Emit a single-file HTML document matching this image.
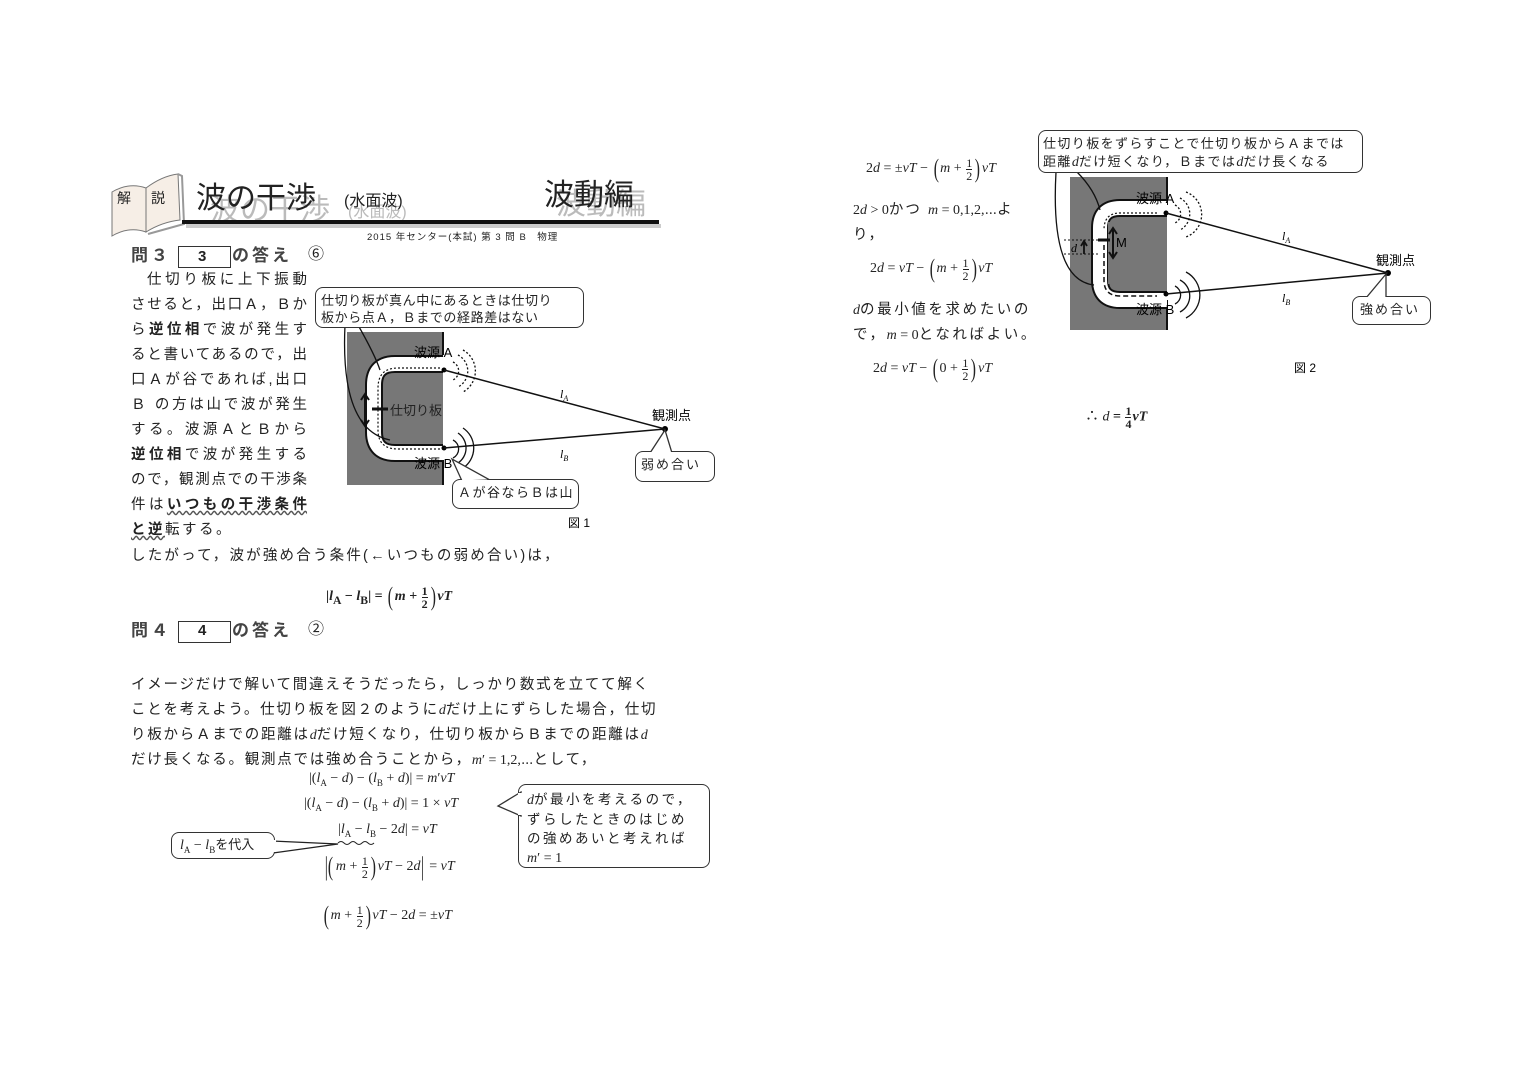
<!DOCTYPE html>
<html><head><meta charset="utf-8">
<style>
body{margin:0;width:1518px;height:1075px;background:#fff;position:relative;overflow:hidden;font-family:"Liberation Sans","Noto Sans CJK JP",sans-serif;color:#222}
.t{position:absolute;white-space:nowrap;line-height:1}
.j{font-size:14.5px;letter-spacing:2.2px}
.m{font-family:"Liberation Serif","Noto Serif CJK SC",serif;font-size:14px;letter-spacing:0}
.fr{display:inline-block;vertical-align:middle;text-align:center;font-size:12px;line-height:12px;margin:0 1px}
.fr span{display:block}
.fr .n{border-bottom:1px solid #222}
.p{font-size:26px;font-weight:200;vertical-align:middle;transform:scaleX(.6);display:inline-block}
.b{font-weight:bold}
.box{position:absolute;border:1.5px solid #333;border-radius:8px;background:#fff}
.ln{position:absolute;left:131px;width:176px;font-size:14.5px;text-align:justify;text-align-last:justify;white-space:nowrap;line-height:1}
</style></head><body>

<!-- header -->
<svg class="t" style="left:104px;top:168px" width="90" height="70">
<path d="M8 24 Q25 14 42 20 L42 64 Q25 58 8 68 Z" fill="#f6eee6" stroke="#777"/>
<path d="M42 20 Q58 8 74 6 L76 52 Q58 54 42 64 Z" fill="#f6eee6" stroke="#777"/>
<path d="M74 6 L78 8 L80 56 L44 66" fill="none" stroke="#999" stroke-width="2"/>
</svg>
<div class="t" style="left:117px;top:191px;font-size:14px">解</div>
<div class="t" style="left:151px;top:191px;font-size:14px">説</div>
<div class="t" style="left:210px;top:196px;font-size:30px;color:#bbb">波の干渉</div>
<div class="t" style="left:196px;top:184px;font-size:30px">波の干渉</div>
<div class="t" style="left:348px;top:205px;font-size:16px;color:#bbb">(水面波)</div>
<div class="t" style="left:344px;top:194px;font-size:16px">(水面波)</div>
<div class="t" style="left:556px;top:190px;font-size:30px;color:#bbb">波動編</div>
<div class="t" style="left:544px;top:181px;font-size:30px">波動編</div>
<div style="position:absolute;left:186px;top:224px;width:475px;height:4px;background:#ccc"></div>
<div style="position:absolute;left:182px;top:220px;width:477px;height:4px;background:#111"></div>
<div class="t" style="left:367px;top:233px;font-size:9.5px;letter-spacing:1px">2015 年センター(本試) 第 3 問 B　物理</div>

<!-- 問3 -->
<div class="t b" style="left:131px;top:247px;font-size:17px;letter-spacing:3px;color:#444">問３</div>
<div style="position:absolute;left:178px;top:246px;width:51px;height:20px;border:1px solid #333"></div>
<div class="t b" style="left:198px;top:249px;font-size:15px">3</div>
<div class="t b" style="left:232px;top:247px;font-size:17px;letter-spacing:3px;color:#444">の答え</div>
<div class="t" style="left:308px;top:247px;font-size:16px">⑥</div>

<div class="ln" style="top:273px;left:147px;width:160px">仕切り板に上下振動</div>
<div class="ln" style="top:298px">させると，出口Ａ，Ｂか</div>
<div class="ln" style="top:323px">ら<b>逆位相</b>で波が発生す</div>
<div class="ln" style="top:348px">ると書いてあるので，出</div>
<div class="ln" style="top:373px">口Ａが谷であれば,出口</div>
<div class="ln" style="top:398px">Ｂ の方は山で波が発生</div>
<div class="ln" style="top:423px">する。波源ＡとＢから</div>
<div class="ln" style="top:448px"><b>逆位相</b>で波が発生する</div>
<div class="ln" style="top:473px">ので，観測点での干渉条</div>
<div class="ln" style="top:498px">件は<b style="text-decoration:underline wavy #555">いつもの干渉条件</b></div>
<div class="t" style="left:131px;top:523px;font-size:14.5px;letter-spacing:2.5px"><b style="text-decoration:underline wavy #555">と逆</b>転する。</div>
<div class="t j" style="left:131px;top:549px">したがって，波が強め合う条件(←いつもの弱め合い)は，</div>
<div class="t m b" style="left:326px;top:584px">|<i>l</i><sub>A</sub> − <i>l</i><sub>B</sub>| = <span class="p">(</span><i>m</i> + <span class="fr"><span class="n">1</span><span>2</span></span><span class="p">)</span><i>vT</i></div>

<!-- fig1 -->
<svg class="t" style="left:300px;top:280px" width="420" height="260" viewBox="300 280 420 260">
<rect x="347" y="332" width="96" height="153" fill="#777"/>
<line x1="443" y1="332" x2="443" y2="355" stroke="#111" stroke-width="2"/>
<line x1="443" y1="460" x2="443" y2="485" stroke="#111" stroke-width="2"/>
<path d="M443 364 L395 364 Q374 364 374 385 L374 432 Q374 453 395 453 L443 453" fill="none" stroke="#111" stroke-width="18"/>
<path d="M443 364 L395 364 Q374 364 374 385 L374 432 Q374 453 395 453 L443 453" fill="none" stroke="#fff" stroke-width="14"/>
<path d="M440 368 L398 368 Q378 368 378 388 L378 430 Q378 449 398 449 L440 449" fill="none" stroke="#111" stroke-width="1.2" stroke-dasharray="2 2"/>
<rect x="388" y="378" width="55" height="61" fill="#777"/>
<line x1="372" y1="409" x2="388" y2="409" stroke="#111" stroke-width="3"/>
<path d="M365 396 L365 424 M361 400 L365 394 L369 400 M361 420 L365 426 L369 420" stroke="#111" stroke-width="2" fill="none"/>
<text x="390" y="415" font-size="13" fill="#222">仕切り板</text>
<text x="414" y="357" font-size="13">波源 A</text>
<text x="414" y="468" font-size="13">波源 B</text>
<circle cx="444" cy="370" r="2.5"/><circle cx="444" cy="448" r="2.5"/><circle cx="665" cy="429" r="3"/>
<line x1="444" y1="370" x2="665" y2="429" stroke="#111" stroke-width="1.5"/>
<line x1="444" y1="448" x2="665" y2="429" stroke="#111" stroke-width="1.5"/>
<g fill="none" stroke="#111" stroke-width="1.3" stroke-dasharray="2 2">
<path d="M453 362 A10 10 0 0 1 453 380"/><path d="M458 355 A18 18 0 0 1 458 387"/><path d="M463 350 A24 24 0 0 1 463 392"/>
</g>
<g fill="none" stroke="#111" stroke-width="1.3">
<path d="M453 440 A10 10 0 0 1 453 458"/><path d="M458 433 A18 18 0 0 1 458 463"/><path d="M463 428 A24 24 0 0 1 463 468"/>
</g>
<text x="560" y="398" font-size="12" font-style="italic" font-family="Liberation Serif">l<tspan font-size="8" dy="3">A</tspan></text>
<text x="560" y="458" font-size="12" font-style="italic" font-family="Liberation Serif">l<tspan font-size="8" dy="3">B</tspan></text>
<text x="652" y="420" font-size="13">観測点</text>
<path d="M345 325 Q340 430 390 440" fill="none" stroke="#111" stroke-width="1.3"/>
<path d="M358 325 Q375 355 380 370" fill="none" stroke="#111" stroke-width="1.3"/>
<text x="568" y="527" font-size="12">図 1</text>
</svg>
<div class="box" style="left:315px;top:287px;width:267px;height:39px"></div>
<div class="t" style="left:321px;top:292px;font-size:13px;letter-spacing:.6px;line-height:17px">仕切り板が真ん中にあるときは仕切り<br>板から点Ａ，Ｂまでの経路差はない</div>
<div class="box" style="left:452px;top:479px;width:125px;height:28px"></div>
<svg class="t" style="left:440px;top:455px" width="90" height="30"><path d="M12 4 L22 26 L50 25 Z" fill="#fff" stroke="#333" stroke-width="1.3"/><rect x="20" y="25" width="35" height="4" fill="#fff"/></svg>
<div class="t" style="left:458px;top:486px;font-size:13px;letter-spacing:1.5px">Ａが谷ならＢは山</div>
<div class="box" style="left:635px;top:451px;width:78px;height:29px"></div>
<svg class="t" style="left:640px;top:428px" width="40" height="26"><path d="M25 2 L10 25 L32 25 Z" fill="#fff" stroke="#333" stroke-width="1.3"/><rect x="8" y="24" width="26" height="4" fill="#fff"/></svg>
<div class="t" style="left:641px;top:458px;font-size:13px;letter-spacing:2px">弱め合い</div>

<!-- 問4 -->
<div class="t b" style="left:131px;top:622px;font-size:17px;letter-spacing:3px;color:#444">問４</div>
<div style="position:absolute;left:178px;top:621px;width:51px;height:20px;border:1px solid #333"></div>
<div class="t b" style="left:198px;top:623px;font-size:15px">4</div>
<div class="t b" style="left:232px;top:622px;font-size:17px;letter-spacing:3px;color:#444">の答え</div>
<div class="t" style="left:308px;top:622px;font-size:16px">②</div>

<div class="t j" style="left:131px;top:673px;line-height:25px;letter-spacing:1.75px">イメージだけで解いて間違えそうだったら，しっかり数式を立てて解く<br>ことを考えよう。仕切り板を図２のように<i class="m">d</i>だけ上にずらした場合，仕切<br>り板からＡまでの距離は<i class="m">d</i>だけ短くなり，仕切り板からＢまでの距離は<i class="m">d</i><br>だけ長くなる。観測点では強め合うことから，<span class="m"><i>m</i>′ = 1,2,⋯</span>として，</div>

<div class="t m" style="left:309px;top:772px">|(<i>l</i><sub style="font-size:9px">A</sub> − <i>d</i>) − (<i>l</i><sub style="font-size:9px">B</sub> + <i>d</i>)| = <i>m</i>′<i>vT</i></div>
<div class="t m" style="left:304px;top:797px">|(<i>l</i><sub style="font-size:9px">A</sub> − <i>d</i>) − (<i>l</i><sub style="font-size:9px">B</sub> + <i>d</i>)| = 1 × <i>vT</i></div>
<div class="t m" style="left:338px;top:823px">|<i>l</i><sub style="font-size:9px">A</sub> − <i>l</i><sub style="font-size:9px">B</sub> − 2<i>d</i>| = <i>vT</i></div>
<div class="t m" style="left:322px;top:854px"><span class="p">|(</span><i>m</i> + <span class="fr"><span class="n">1</span><span>2</span></span><span class="p">)</span><i>vT</i> − 2<i>d</i><span class="p">|</span> = <i>vT</i></div>
<div class="t m" style="left:322px;top:903px"><span class="p">(</span><i>m</i> + <span class="fr"><span class="n">1</span><span>2</span></span><span class="p">)</span><i>vT</i> − 2<i>d</i> = ±<i>vT</i></div>
<svg class="t" style="left:170px;top:830px" width="560" height="40">
<path d="M168 13 q3 -3 6 0 t6 0 t6 0 t6 0 t6 0 t6 0" fill="none" stroke="#222" stroke-width="1"/>
<path d="M102 11 L168 14 L103 23" fill="#fff" stroke="#222" stroke-width="1.2"/>
</svg>
<div class="box" style="left:171px;top:832px;width:102px;height:25px"></div>
<svg class="t" style="left:270px;top:840px" width="10" height="12"><rect x="0" y="0" width="6" height="12" fill="#fff"/></svg>
<div class="t m" style="left:180px;top:838px"><i>l</i><sub style="font-size:9px">A</sub> − <i>l</i><sub style="font-size:9px">B</sub><span style="font-family:'Liberation Sans','Noto Sans CJK JP';font-size:13px">を代入</span></div>
<div class="box" style="left:518px;top:784px;width:190px;height:82px"></div>
<svg class="t" style="left:495px;top:790px" width="30" height="30"><path d="M26 2 L3 16 L26 26 Z" fill="#fff" stroke="#333" stroke-width="1.3"/><rect x="23" y="3" width="6" height="22" fill="#fff"/></svg>
<div class="t" style="left:527px;top:790px;font-size:13.5px;letter-spacing:2.5px;line-height:19px"><i class="m">d</i>が最小を考えるので，<br>ずらしたときのはじめ<br>の強めあいと考えれば<br><span class="m"><i>m</i>′ = 1</span></div>

<!-- right column -->
<div class="t m" style="left:866px;top:156px">2<i>d</i> = ±<i>vT</i> − <span class="p">(</span><i>m</i> + <span class="fr"><span class="n">1</span><span>2</span></span><span class="p">)</span><i>vT</i></div>
<div class="t j" style="left:853px;top:198px;line-height:25px;letter-spacing:2px"><span class="m">2<i>d</i> &gt; 0</span>かつ <span class="m"><i>m</i> = 0,1,2,⋯</span>よ<br>り，</div>
<div class="t m" style="left:870px;top:256px">2<i>d</i> = <i>vT</i> − <span class="p">(</span><i>m</i> + <span class="fr"><span class="n">1</span><span>2</span></span><span class="p">)</span><i>vT</i></div>
<div class="t j" style="left:853px;top:298px;line-height:25px;letter-spacing:2.6px"><i class="m">d</i>の最小値を求めたいの<br>で，<span class="m"><i>m</i> = 0</span>となればよい。</div>
<div class="t m" style="left:873px;top:356px">2<i>d</i> = <i>vT</i> − <span class="p">(</span>0 + <span class="fr"><span class="n">1</span><span>2</span></span><span class="p">)</span><i>vT</i></div>
<div class="t m b" style="left:1085px;top:405px">∴ <i style="font-weight:normal">d</i> = <span class="fr"><span class="n">1</span><span>4</span></span><i>vT</i></div>

<!-- fig2 -->
<svg class="t" style="left:1030px;top:170px" width="420" height="210" viewBox="1030 170 420 210">
<rect x="1070" y="177" width="97" height="153" fill="#777"/>
<line x1="1167" y1="177" x2="1167" y2="205" stroke="#111" stroke-width="2"/>
<line x1="1167" y1="300" x2="1167" y2="330" stroke="#111" stroke-width="2"/>
<path d="M1167 208 L1120 208 Q1100 208 1100 228 L1100 280 Q1100 300 1120 300 L1167 300" fill="none" stroke="#111" stroke-width="18"/>
<path d="M1167 208 L1120 208 Q1100 208 1100 228 L1100 280 Q1100 300 1120 300 L1167 300" fill="none" stroke="#fff" stroke-width="14"/>
<path d="M1157 213 L1120 213 Q1104 213 1104 230" fill="none" stroke="#111" stroke-width="1.2" stroke-dasharray="2 2"/>
<path d="M1104 245 L1104 280 Q1104 296 1120 296 L1157 296" fill="none" stroke="#111" stroke-width="1.5" stroke-dasharray="5 3"/>
<rect x="1108" y="222" width="59" height="62" fill="#777"/>
<line x1="1098" y1="240" x2="1110" y2="240" stroke="#111" stroke-width="3"/>
<path d="M1113 230 L1113 256 M1109 234 L1113 228 L1117 234 M1109 252 L1113 258 L1117 252" stroke="#111" stroke-width="2" fill="none"/>
<text x="1116" y="247" font-size="13">M</text>
<line x1="1064" y1="240" x2="1098" y2="240" stroke="#111" stroke-width="1" stroke-dasharray="2 2"/>
<line x1="1064" y1="254" x2="1098" y2="254" stroke="#111" stroke-width="1" stroke-dasharray="2 2"/>
<text x="1071" y="252" font-size="12" font-style="italic" font-family="Liberation Serif">d</text>
<path d="M1084 254 L1084 243 M1081 246 L1084 241 L1087 246" stroke="#111" stroke-width="1.8" fill="none"/>
<text x="1136" y="203" font-size="13">波源 A</text>
<text x="1136" y="314" font-size="13">波源 B</text>
<circle cx="1166" cy="213" r="2.5"/><circle cx="1166" cy="294" r="2.5"/><circle cx="1388" cy="273" r="3"/>
<line x1="1166" y1="213" x2="1388" y2="273" stroke="#111" stroke-width="1.5"/>
<line x1="1166" y1="294" x2="1388" y2="273" stroke="#111" stroke-width="1.5"/>
<g fill="none" stroke="#111" stroke-width="1.3" stroke-dasharray="2 2">
<path d="M1175 205 A10 10 0 0 1 1175 223"/><path d="M1180 198 A18 18 0 0 1 1180 230"/><path d="M1186 192 A24 24 0 0 1 1186 237"/>
</g>
<g fill="none" stroke="#111" stroke-width="1.3">
<path d="M1175 286 A10 10 0 0 1 1175 304"/><path d="M1180 280 A18 18 0 0 1 1180 312"/><path d="M1186 272 A26 26 0 0 1 1186 318"/>
</g>
<text x="1282" y="240" font-size="12" font-style="italic" font-family="Liberation Serif">l<tspan font-size="8" dy="3">A</tspan></text>
<text x="1282" y="302" font-size="12" font-style="italic" font-family="Liberation Serif">l<tspan font-size="8" dy="3">B</tspan></text>
<text x="1376" y="265" font-size="13">観測点</text>
<path d="M1056 172 Q1050 280 1094 285" fill="none" stroke="#111" stroke-width="1.3"/>
<path d="M1077 172 Q1095 190 1100 210" fill="none" stroke="#111" stroke-width="1.3"/>
<text x="1294" y="372" font-size="12">図 2</text>
</svg>
<div class="box" style="left:1038px;top:130px;width:323px;height:41px"></div>
<div class="t" style="left:1043px;top:135px;font-size:13px;letter-spacing:1.4px;line-height:18px">仕切り板をずらすことで仕切り板からＡまでは<br>距離<i class="m">d</i>だけ短くなり，Ｂまでは<i class="m">d</i>だけ長くなる</div>
<div class="box" style="left:1352px;top:296px;width:77px;height:27px"></div>
<svg class="t" style="left:1360px;top:272px" width="40" height="28"><path d="M26 2 L6 26 L26 26 Z" fill="#fff" stroke="#333" stroke-width="1.3"/><rect x="4" y="25" width="24" height="4" fill="#fff"/></svg>
<div class="t" style="left:1360px;top:303px;font-size:13px;letter-spacing:2px">強め合い</div>
</body></html>
